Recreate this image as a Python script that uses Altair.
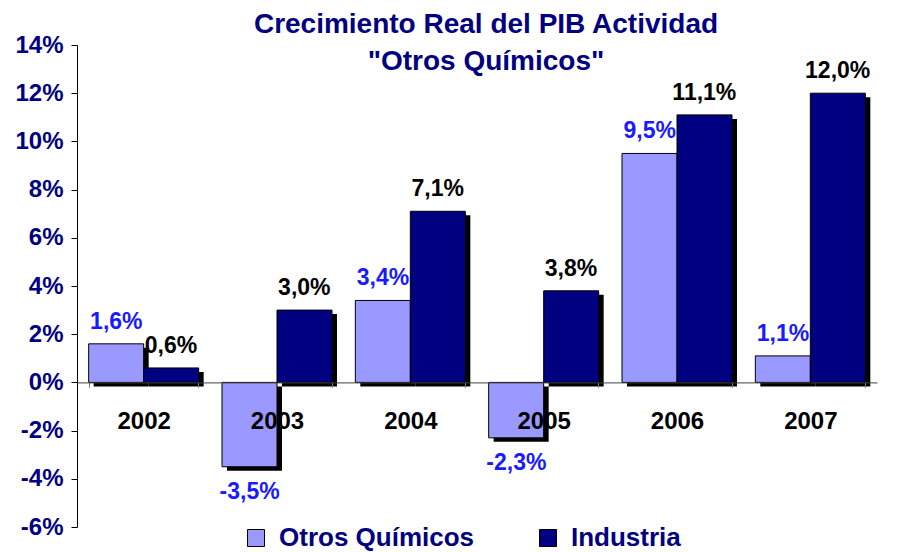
import altair as alt
import pandas as pd

years = ["2002", "2003", "2004", "2005", "2006", "2007"]
otros = [1.6, -3.5, 3.4, -2.3, 9.5, 1.1]
industria = [0.6, 3.0, 7.1, 3.8, 11.1, 12.0]
series_names = ["Otros Químicos", "Industria"]
series_colors = ["#9999FF", "#000080"]
y_ticks = [-6, -4, -2, 0, 2, 4, 6, 8, 10, 12, 14]
title_lines = ["Crecimiento Real del PIB Actividad", '"Otros Químicos"']

rows = []
for i, yr in enumerate(years):
    rows.append({"year": yr, "serie": series_names[0], "valor": otros[i]})
    rows.append({"year": yr, "serie": series_names[1], "valor": industria[i]})
df = pd.DataFrame(rows)
df["etiqueta"] = df["valor"].map(lambda v: f"{v:.1f}".replace(".", ",") + "%")

FONT = "Liberation Sans"
NAVY = "#000080"
BAR_W = 55
HALF = BAR_W / 2

x = alt.X(
    "year:N", sort=years,
    scale=alt.Scale(paddingInner=0.18, paddingOuter=0.09),
    axis=alt.Axis(title=None, offset=-144.6, labelFontSize=24, labelFont=FONT,
                  labelFontWeight="bold", labelColor="black", labelPadding=22,
                  tickBand="extent", tickSize=5, tickColor="#808080",
                  domainColor="#404040", labelAngle=0, zindex=1),
)
xo = alt.XOffset("serie:N", sort=series_names)
y = alt.Y(
    "valor:Q",
    scale=alt.Scale(domain=[-6, 14], nice=False, zero=True),
    axis=alt.Axis(title=None, values=y_ticks, labelExpr="datum.value + '%'",
                  labelFontSize=24, labelFont=FONT, labelFontWeight="bold",
                  labelColor=NAVY, labelPadding=8, tickSize=6, tickColor="black",
                  domainColor="black", grid=False),
)

color = alt.Color(
    "serie:N", sort=series_names,
    scale=alt.Scale(domain=series_names, range=series_colors),
    legend=alt.Legend(title=None, orient="none", legendX=166, legendY=480,
                      direction="horizontal", symbolType="square",
                      symbolSize=289, symbolStrokeColor="black",
                      symbolStrokeWidth=1, labelFontSize=26,
                      labelFont=FONT, labelFontWeight="bold",
                      labelColor=NAVY, labelOffset=10, columnPadding=60,
                      labelLimit=400),
)

base = alt.Chart(df)
layers = []
offsets = [-HALF, HALF]
for name, off in zip(series_names, offsets):
    sub = base.transform_filter(alt.datum.serie == name)
    layers.append(
        sub.mark_bar(color="black", width=BAR_W,
                     xOffset=off + 5, yOffset=4, y2Offset=4).encode(x=x, y=y)
    )
for name, off in zip(series_names, offsets):
    sub = base.transform_filter(alt.datum.serie == name)
    layers.append(
        sub.mark_bar(stroke="black", strokeWidth=1, width=BAR_W,
                     xOffset=off).encode(x=x, y=y, color=color)
    )

txt_color = alt.condition(alt.datum.serie == series_names[0], alt.value("#1a1aff"), alt.value("black"))

labels_pos = base.transform_filter(alt.datum.valor >= 0).mark_text(
    dy=-22, fontSize=23, font=FONT, fontWeight="bold", baseline="middle"
).encode(x=x, xOffset=xo, y=y, text="etiqueta:N", color=txt_color)

labels_neg = base.transform_filter(alt.datum.valor < 0).mark_text(
    dy=25, fontSize=23, font=FONT, fontWeight="bold", baseline="middle"
).encode(x=x, xOffset=xo, y=y, text="etiqueta:N", color=txt_color)

layers += [labels_pos, labels_neg]

chart = alt.layer(*layers).properties(
    width=800, height=482,
    title=alt.Title(title_lines, fontSize=28, font=FONT, fontWeight="bold", color=NAVY,
                    anchor="middle", lineHeight=37, offset=-43, dx=9),
    autosize=alt.AutoSizeParams(type="none"),
    padding={"left": 69, "top": 37, "right": 20, "bottom": 28},
).configure_view(stroke=None)

chart.save("out.html", embed_options={"renderer": "svg", "actions": False})
